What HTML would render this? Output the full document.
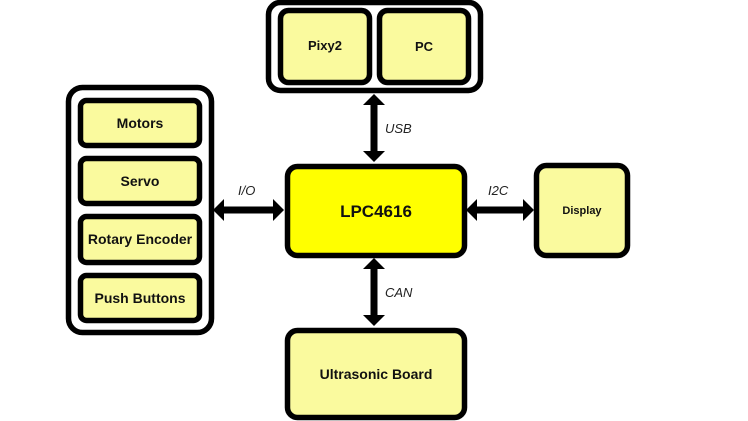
<!DOCTYPE html>
<html><head><style>
html,body{margin:0;padding:0;background:#fff;}
svg{display:block;}
text{font-family:"Liberation Sans",sans-serif;}
.b{font-weight:bold;fill:#111;}
.i{font-style:italic;fill:#222;font-size:13px;}
</style></head><body>
<svg width="748" height="421" viewBox="0 0 748 421">
<g stroke="#000" stroke-width="5.5">
<rect x="68.5" y="87.5" width="143" height="245" rx="14" fill="#fff"/>
<rect x="80.5" y="100.5" width="119" height="45" rx="6" fill="#fafa9e"/>
<rect x="80.5" y="158.5" width="119" height="45" rx="6" fill="#fafa9e"/>
<rect x="80.5" y="216.5" width="119" height="46" rx="6" fill="#fafa9e"/>
<rect x="80.5" y="275.5" width="119" height="45" rx="6" fill="#fafa9e"/>
<rect x="268.5" y="2.5" width="212" height="88" rx="12" fill="#fff"/>
<rect x="280.5" y="10.5" width="89" height="72" rx="8" fill="#fafa9e"/>
<rect x="379.5" y="10.5" width="89" height="72" rx="8" fill="#fafa9e"/>
<rect x="287.5" y="166.5" width="177" height="89" rx="10" fill="#ffff00"/>
<rect x="536.5" y="165.5" width="91" height="90" rx="10" fill="#fafa9e"/>
<rect x="287.5" y="330.5" width="177" height="87" rx="10" fill="#fafa9e"/>
</g>
<g fill="#000">
<polygon points="213,210 224,199 224,206.5 273,206.5 273,199 284,210 273,221 273,213.5 224,213.5 224,221"/>
<polygon points="466,210 477,199 477,206.5 523,206.5 523,199 534,210 523,221 523,213.5 477,213.5 477,221"/>
<polygon points="374,94 385,105 377.5,105 377.5,151 385,151 374,162 363,151 370.5,151 370.5,105 363,105"/>
<polygon points="374,258 385,269 377.5,269 377.5,315 385,315 374,326 363,315 370.5,315 370.5,269 363,269"/>
</g>
<g text-anchor="middle" class="b" font-size="14">
<text x="140" y="128">Motors</text>
<text x="140" y="186">Servo</text>
<text x="140" y="244">Rotary Encoder</text>
<text x="140" y="303">Push Buttons</text>
<text x="325" y="50" font-size="13">Pixy2</text>
<text x="424" y="51" font-size="13">PC</text>
<text x="582" y="214" font-size="11">Display</text>
<text x="376" y="379">Ultrasonic Board</text>
<text x="376" y="217" font-size="17">LPC4616</text>
</g>
<text class="i" x="238" y="195">I/O</text>
<text class="i" x="488" y="195">I2C</text>
<text class="i" x="385" y="133">USB</text>
<text class="i" x="385" y="297">CAN</text>
</svg>
</body></html>
